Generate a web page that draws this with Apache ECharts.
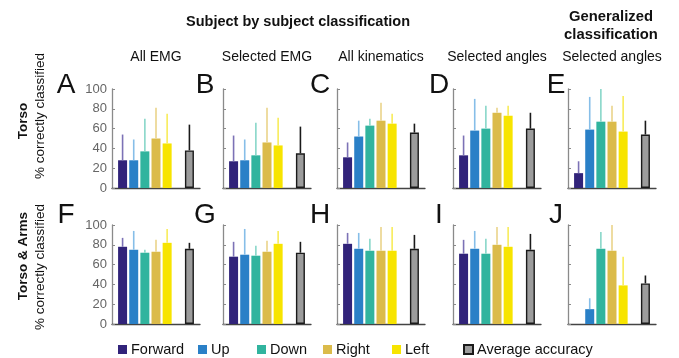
<!DOCTYPE html>
<html><head><meta charset="utf-8">
<script src="https://cdn.jsdelivr.net/npm/echarts@6/dist/echarts.min.js"></script>
<style>html,body{margin:0;padding:0;background:#fff}#c{width:679px;height:358px}</style>
</head><body><div id="c"></div>
<script>
const categories = ['Forward','Up','Down','Right','Left','Average accuracy'];
const slots = [1,2,3,4,5,7];
const panelLetters = ['A','B','C','D','E','F','G','H','I','J'];
const columnTitles = ['All EMG','Selected EMG','All kinematics','Selected angles','Selected angles'];
const rowTitles = ['Torso','Torso & Arms'];
const yLabel = '% correctly classified';
const mainTitle = 'Subject by subject classification';
const sideTitle = ['Generalized','classification'];

const meanA = [28,28,37,50,45,38];
const upperA = [54,49,70,81,75,64];
const meanB = [27,28,33,46,43,35];
const upperB = [53,49,66,81,71,62];
const meanC = [31,52,63,68,65,56];
const upperC = [46,68,70,86,75,65];
const meanD = [33,58,60,76,73,60];
const upperD = [53,90,83,81,83,76];
const meanE = [15,59,67,67,57,54];
const upperE = [27,92,100,83,93,68];
const meanF = [78,75,72,73,82,76];
const upperF = [87,94,75,85,96,82];
const meanG = [68,70,69,73,81,72];
const upperG = [83,96,79,84,94,83];
const meanH = [81,76,74,74,74,76];
const upperH = [92,92,86,98,98,90];
const meanI = [71,76,71,80,78,75];
const upperI = [85,94,86,98,98,91];
const meanJ = [null,15,76,74,39,41];
const upperJ = [null,26,93,100,68,49];

const means = [meanA,meanB,meanC,meanD,meanE,meanF,meanG,meanH,meanI,meanJ];
const uppers = [upperA,upperB,upperC,upperD,upperE,upperF,upperG,upperH,upperI,upperJ];

const fills = ['#31237a','#2a80c7','#31b49e','#dbbb4a','#f7e400','#9c9c9c'];
const errColors = ['#7c72b6','#86bee8','#88d7c9','#ead48a','#f8ec5a','#1a1a1a'];
const FONT = 'Liberation Sans, Arial, sans-serif';

const colLefts = [112,223,337,453,568];
const rowTops = [89,225];
const gW = 88, gH = 99;

const grids = [], xAxes = [], yAxes = [], series = [];
for (let g = 0; g < 10; g++) {
  const col = g % 5, row = Math.floor(g / 5);
  grids.push({left: colLefts[col], top: rowTops[row], width: gW, height: gH, containLabel: false});
  xAxes.push({type:'value', gridIndex:g, min:0.05, max:7.95,
    axisLine:{show:true, onZero:false, lineStyle:{color:'#444', width:1.3}},
    axisTick:{show:false}, axisLabel:{show:false}, splitLine:{show:false}});
  yAxes.push({type:'value', gridIndex:g, min:0, max:100, interval:20,
    axisLine:{show:true, lineStyle:{color:'#8a8a8a', width:1.3}},
    axisTick:{show:true, inside:true, length:3, lineStyle:{color:'#8a8a8a', width:1}},
    axisLabel:{show: col === 0, color:'#666', fontSize:13, margin:5, fontFamily:FONT},
    splitLine:{show:false}});
  for (let k = 0; k < categories.length; k++) {
    const v = means[g][k];
    series.push({type:'bar', name: categories[k], xAxisIndex:g, yAxisIndex:g,
      data: v == null ? [] : [[slots[k], v]],
      barWidth: 9, barGap:'-100%', silent:true,
      itemStyle: k === 5 ? {color: fills[k], borderColor:'#1a1a1a', borderWidth:1.4} : {color: fills[k]}
    });
  }
  const errData = [];
  for (let k = 0; k < categories.length; k++) {
    if (means[g][k] != null) errData.push([slots[k], means[g][k], uppers[g][k], k]);
  }
  series.push({type:'custom', xAxisIndex:g, yAxisIndex:g, z:3, silent:true,
    encode:{x:0, y:[1,2]}, data: errData,
    renderItem: (params, api) => {
      const x = api.value(0), lo = api.value(1), hi = api.value(2), k = api.value(3);
      const p0 = api.coord([x, lo]), p1 = api.coord([x, hi]);
      return {type:'line', shape:{x1:p0[0], y1:p0[1], x2:p1[0], y2:p1[1]},
        style:{stroke: errColors[k], lineWidth:1.6}};
    }});
}

const legendLefts = [118,198,257,323,392,463];
const legends = categories.map((c, i) => ({
  data:[c], left: legendLefts[i], top: 342, padding:0, itemWidth:9, itemHeight:9,
  icon:'rect', selectedMode:false,
  textStyle:{fontSize:14.5, color:'#111', fontFamily:FONT, padding:[0,0,0,-1]}
}));

const graphic = [];
function txt(x, y, s, size, bold, rot) {
  graphic.push({type:'text', x:x, y:y, rotation: rot || 0,
    style:{text:s, fontSize:size, fontWeight: bold ? 'bold' : 'normal', fontFamily:FONT,
      fill:'#111', textAlign:'center', textVerticalAlign:'middle'}});
}
txt(298, 22, mainTitle, 14.5, true);
txt(611, 17, sideTitle[0], 14.8, true);
txt(611, 35, sideTitle[1], 14.8, true);
const colCenters = colLefts.map(l => l + gW / 2);
columnTitles.forEach((t, i) => txt(colCenters[i], 57, t, 14, false));
const letterX = [66,205,320,439,556];
panelLetters.forEach((L, g) => {
  const col = g % 5, row = Math.floor(g / 5);
  txt(letterX[col], row === 0 ? 85 : 215, L, 28, false);
});
txt(23, 121, rowTitles[0], 13.5, true, Math.PI/2);
txt(23, 256, rowTitles[1], 13.5, true, Math.PI/2);
txt(40, 116, yLabel, 13.5, false, Math.PI/2);
txt(40, 267, yLabel, 13.5, false, Math.PI/2);

const chart = echarts.init(document.getElementById('c'), null, {renderer:'canvas'});
chart.setOption({
  animation:false, backgroundColor:'#fff',
  grid: grids, xAxis: xAxes, yAxis: yAxes, series: series,
  legend: legends, graphic: graphic
});
</script></body></html>
